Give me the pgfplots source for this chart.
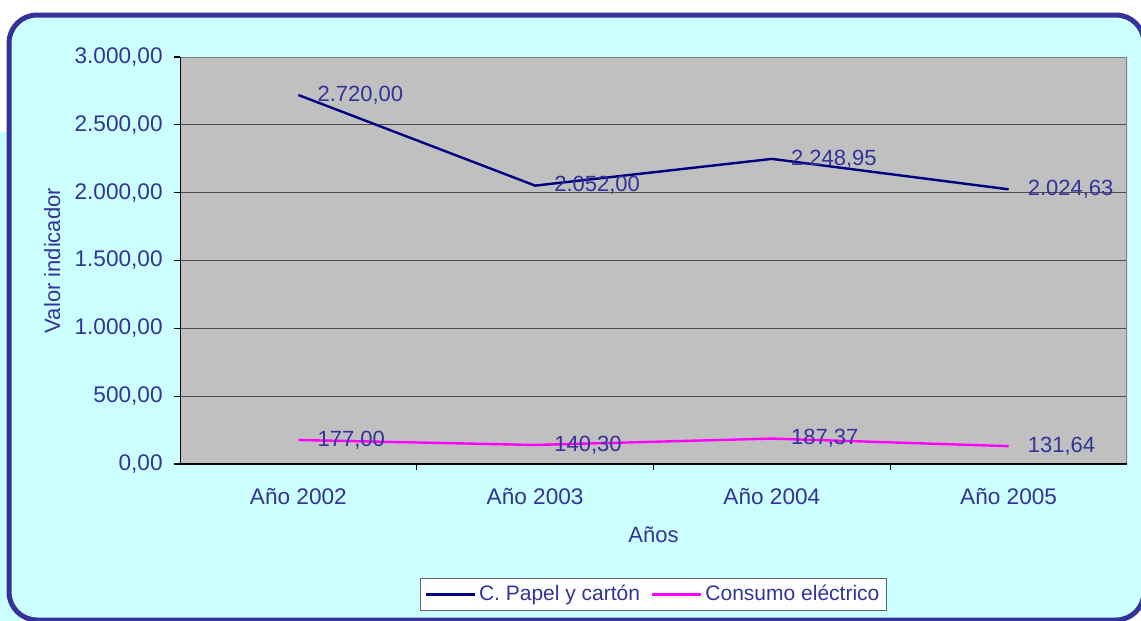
\documentclass[border=0pt]{standalone}
\usepackage{pgfplots}
\pgfplotsset{compat=1.18}
\usepackage{fontspec}
\setmainfont{Liberation Sans}
\definecolor{txt}{HTML}{333399}
\definecolor{bgc}{HTML}{CCFFFF}
\definecolor{plotgray}{HTML}{C0C0C0}
\definecolor{navyl}{HTML}{000080}
\definecolor{magl}{HTML}{FF00FF}
\begin{document}
\begin{tikzpicture}
\useasboundingbox (0,0) rectangle (570.5pt,-310.5pt);
\begin{scope}
\clip (0,0) rectangle (570.5pt,-310.5pt);
\fill[white] (0,0) rectangle (570.5pt,-310.5pt);
\fill[bgc] (0,-66pt) rectangle (10pt,-310.5pt);
\draw[txt, line width=2.5pt, fill=bgc, rounded corners=14pt] (4.5pt,-7.5pt) rectangle (572pt,-310pt);
\end{scope}
\begin{axis}[
  at={(90pt,-232pt)}, anchor=south west,
  scale only axis, width=473.5pt, height=203.5pt,
  xmin=-0.5, xmax=3.5, ymin=0, ymax=3000,
  axis background/.style={fill=plotgray},
  axis line style={draw=none},
  xtick={0.5,1.5,2.5}, xticklabels={},
  extra x ticks={0,1,2,3},
  extra x tick labels={Año 2002,Año 2003,Año 2004,Año 2005},
  extra x tick style={major tick length=0pt, grid=none},
  ytick={0,500,...,3000},
  scaled y ticks=false,
  tick align=outside, major tick length=3pt,
  tick style={black, line width=0.6pt},
  xtick pos=bottom, ytick pos=left,
  ymajorgrids, grid style={black!70, line width=0.5pt},
  /pgf/number format/.cd, fixed, fixed zerofill, precision=2, use comma, 1000 sep={.}, assume math mode=true,
  /pgfplots/.cd,
  tick label style={font=\fontsize{11.3}{13}\selectfont, text=txt},
  xticklabel style={anchor=center, yshift=-16pt},
  yticklabel style={anchor=east, inner sep=0pt, xshift=-5.5pt},
  xlabel={Años}, ylabel={Valor indicador},
  label style={font=\fontsize{11}{13}\selectfont, text=txt},
  xlabel style={at={(axis description cs:0.5,-0.1745)}, anchor=center},
  ylabel style={at={(axis description cs:-0.135,0.5)}, anchor=center, rotate=0},
  legend style={at={(axis description cs:0.5,-0.3206)}, anchor=center,
    draw=black!60, fill=white, font=\fontsize{10.5}{12.5}\selectfont, text=txt,
    legend columns=2, inner xsep=2pt, inner ysep=1.5pt,
    nodes={inner xsep=1.5pt},
    /tikz/every even column/.append style={column sep=4pt}},
  legend image code/.code={\draw[#1] (0,0) -- (24.5pt,0);},
  nodes near coords,
  every node near coord/.append style={anchor=west, inner sep=0pt, xshift=9pt,
    font=\fontsize{11}{13}\selectfont, text=txt},
]
\addplot[navyl, line width=1.2pt] coordinates {(0,2720) (1,2052) (2,2248.95) (3,2024.63)};
\addlegendentry{C. Papel y cartón}
\addplot[magl, line width=1.2pt] coordinates {(0,177) (1,140.30) (2,187.37) (3,131.64)};
\addlegendentry{Consumo eléctrico}
\draw[black!50, line width=1pt] (rel axis cs:0,1) -- (rel axis cs:1,1) -- (rel axis cs:1,0);
\draw[black, line width=0.8pt] (rel axis cs:0,1) -- (rel axis cs:0,0) -- (rel axis cs:1,0);
\end{axis}
\end{tikzpicture}
\end{document}
